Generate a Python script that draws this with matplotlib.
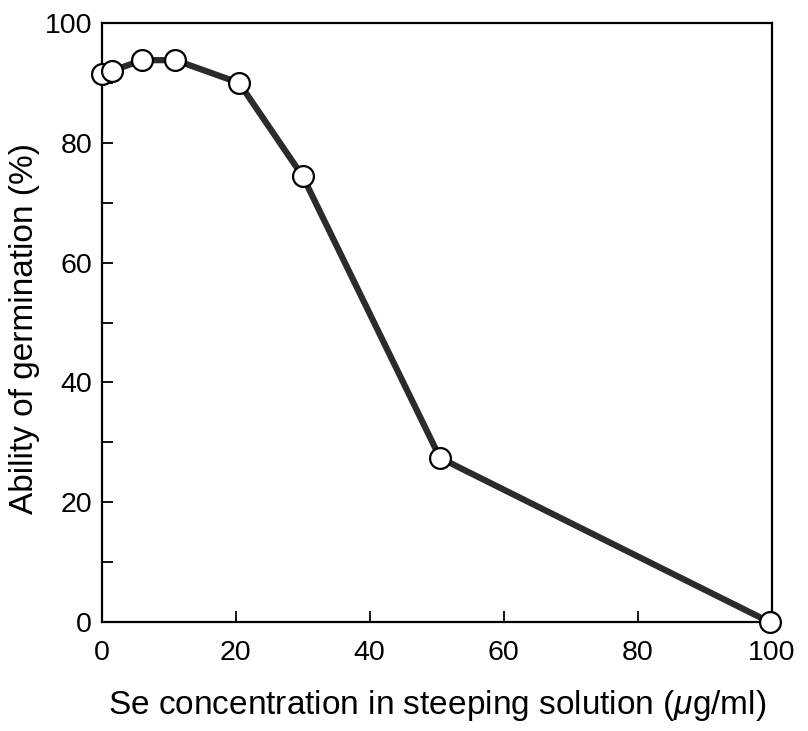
import numpy as np
import matplotlib.pyplot as plt

plt.rcParams['font.family'] = ['Liberation Sans', 'DejaVu Sans']
plt.rcParams['mathtext.fontset'] = 'custom'
plt.rcParams['mathtext.it'] = 'Liberation Sans:italic'
plt.rcParams['mathtext.rm'] = 'Liberation Sans'

# data
se_conc = [0, 1.5, 6, 11, 20.5, 30, 50.5, 99.7]
germination = [91.5, 92.0, 93.8, 93.8, 90.0, 74.4, 27.4, 0.0]

f = plt.figure(figsize=(8.08, 7.31), dpi=100)
ax = f.add_axes([0.126, 0.149, 0.829, 0.8195])

ax.plot(se_conc, germination, color='#2b2b2b', lw=4.5, zorder=2, clip_on=False)
ax.plot(se_conc, germination, 'o', ms=15, mfc='white', mec='black', mew=1.6,
        zorder=3, clip_on=False)

ax.set_xlim(0, 100)
ax.set_ylim(0, 100)
ax.set_xticks(np.arange(0, 101, 20))
ax.set_yticks(np.arange(0, 101, 20))
ax.set_yticks(np.arange(10, 100, 20), minor=True)
ax.tick_params(direction='in', length=8, width=1.3, labelsize=20.5)
ax.tick_params(axis='x', pad=13)
ax.tick_params(axis='y', pad=7)
ax.tick_params(which='minor', direction='in', length=8, width=1.3)
for s in ax.spines.values():
    s.set_linewidth(1.6)

ax.set_xlabel('Se concentration in steeping solution ($\\mathit{\\mu}$g/ml)',
              fontsize=24, va='center')
ax.set_ylabel('Ability of germination (%)', fontsize=24, va='center')
ax.xaxis.set_label_coords(0.5, -0.139)
ax.yaxis.set_label_coords(-0.115, 0.49)

f.savefig('out.png', dpi=100)
